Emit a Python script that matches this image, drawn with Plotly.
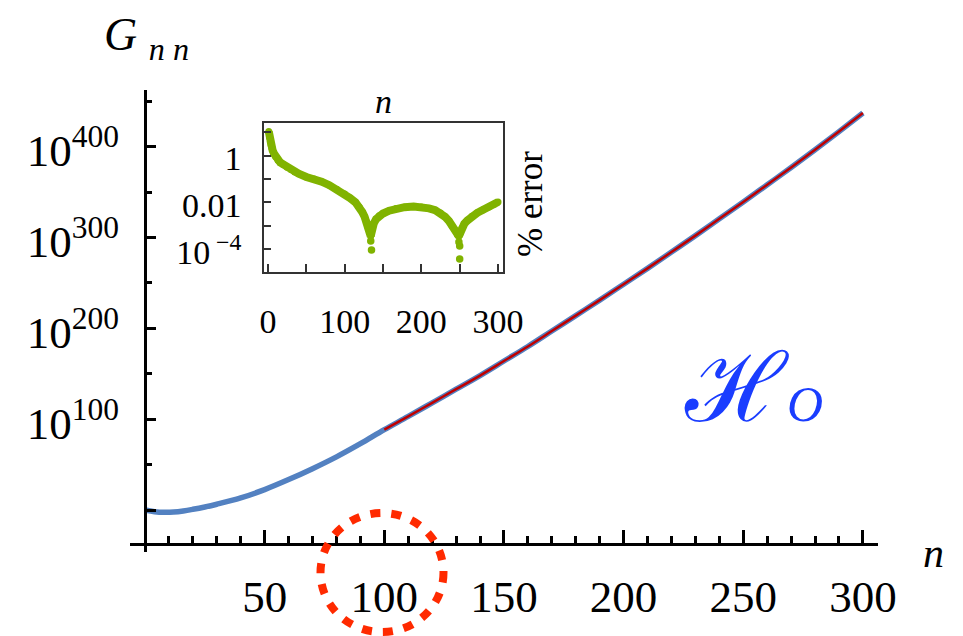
import plotly.graph_objects as go

# ---------------- data ----------------
# main curve: n vs log10(G_nn)
n_main = [0, 4, 8, 12, 16, 20, 25, 30, 40, 50, 60, 70, 80, 90, 100,
          110, 120, 130, 140, 150, 160, 170, 180, 190, 200,
          210, 220, 230, 240, 250, 260, 270, 280, 290, 300]
log_G = [0, -1.8, -2.5, -2.2, -1.0, 0.8, 3.4, 6.4, 13.3, 22.5, 33.5, 45.5, 58.5, 73.0, 88.5,
         103, 118, 133, 148, 164, 180, 197, 214, 231, 248.5,
         266, 284, 302, 320.5, 339, 358, 377, 396.5, 416.5, 437]

# asymptotic approximation (red), from n = 100 on
n_asym = n_main[14:]
log_G_asym = log_G[14:]

# inset: % error (log10 of the value), dense band
n_err = [1, 2, 3, 4, 5, 6, 8, 10, 13, 16, 20, 25, 30, 35, 40, 50, 60, 70, 80, 90, 100,
         107, 114, 119, 123, 126, 129, 131, 133, 134, 135, 136, 138, 141, 145, 150, 158,
         167, 178, 190, 200, 210, 218, 225, 231, 236, 240, 244, 247, 249, 251, 253, 256,
         260, 266, 273, 280, 288, 295, 300]
log_err = [1.03, 0.78, 0.58, 0.44, 0.32, 0.22, 0.07, -0.05, -0.2, -0.3, -0.38, -0.5, -0.6, -0.7,
           -0.78, -0.92, -1.0, -1.12, -1.27, -1.45, -1.65,
           -1.82, -2.0, -2.2, -2.42, -2.62, -2.85, -3.05, -3.3, -3.45, -3.3, -3.1, -2.9, -2.72,
           -2.58, -2.48, -2.36, -2.27, -2.21, -2.18, -2.2, -2.26, -2.34, -2.46, -2.62, -2.8,
           -3.0, -3.2, -3.38, -3.45, -3.3, -3.1, -2.92, -2.78, -2.6, -2.45, -2.33, -2.2,
           -2.08, -1.99]
# isolated points at the bottom of the two dips
n_dip = [134, 135, 249, 250, 250]
log_dip = [-3.65, -4.04, -3.7, -3.87, -4.42]

main_xticks = [0, 50, 100, 150, 200, 250, 300]
main_xtext = ["", "50", "100", "150", "200", "250", "300"]
main_yticks = [0, 100, 200, 300, 400]
main_ytext = ["", "10<sup>100</sup>", "10<sup>200</sup>", "10<sup>300</sup>", "10<sup>400</sup>"]
inset_xticks = [0, 50, 100, 150, 200, 250, 300]
inset_xtext = ["0", "", "100", "", "200", "", "300"]
inset_ytick_exp = [-4, -3, -2, -1, 0, 1]
inset_ytext = ["10<sup> \u22124</sup>", "", "0.01", "", "1", ""]

BLUE = "#5381c1"
RED = "#c00000"
GREEN = "#80b300"
LABEL_BLUE = "#1a3dff"
SERIF = "Liberation Serif"

fig = go.Figure()
fig.add_trace(go.Scatter(x=n_main, y=log_G, mode="lines",
                         line=dict(color=BLUE, width=5.5, shape="spline"),
                         hoverinfo="skip", showlegend=False))
fig.add_trace(go.Scatter(x=n_asym, y=log_G_asym, mode="lines",
                         line=dict(color=RED, width=2.5, shape="spline"),
                         hoverinfo="skip", showlegend=False))
fig.add_trace(go.Scatter(x=n_err, y=[10 ** v for v in log_err], mode="lines+markers",
                         line=dict(color=GREEN, width=8),
                         marker=dict(color=GREEN, size=7),
                         xaxis="x2", yaxis="y2", hoverinfo="skip", showlegend=False))
fig.add_trace(go.Scatter(x=n_dip, y=[10 ** v for v in log_dip], mode="markers",
                         marker=dict(color=GREEN, size=7.5),
                         xaxis="x2", yaxis="y2", hoverinfo="skip", showlegend=False))

# the page body has an 8px margin, so the figure is placed 8px right / down
OFF = 8
W, H = 955, 628
L, R, T, B = 122, 85, 82, 84
pw, ph = W - L - R, H - T - B


def px(x):
    return (x - OFF - L) / pw


def py(y):
    return (H - B - (y - OFF)) / ph


axis_common = dict(showgrid=False, zeroline=False, color="black", automargin=False)

fig.update_layout(
    width=W, height=H,
    margin=dict(l=L, r=R, t=T, b=B, autoexpand=False),
    paper_bgcolor="white", plot_bgcolor="white",
    font=dict(family=SERIF, color="black"),
    xaxis=dict(domain=[0, 1], range=[-6.268, 306.3], anchor="free", position=py(544),
               showline=True, linecolor="black", linewidth=3,
               tickmode="array", tickvals=main_xticks, ticktext=main_xtext,
               ticks="inside", ticklen=13, tickwidth=2.5, tickcolor="black",
               minor=dict(tickmode="linear", tick0=0, dtick=10, ticks="inside",
                          ticklen=7, tickwidth=2.5, tickcolor="black"),
               tickfont=dict(size=45, family=SERIF, color="black"),
               ticklabelstandoff=12, **axis_common),
    yaxis=dict(domain=[0, 1], range=[-46.2, 462.3], anchor="free", position=px(145),
               showline=True, linecolor="black", linewidth=3,
               tickmode="array", tickvals=main_yticks, ticktext=main_ytext,
               ticks="inside", ticklen=9, tickwidth=2.5, tickcolor="black",
               minor=dict(tickmode="linear", tick0=0, dtick=50, ticks="inside",
                          ticklen=5, tickwidth=2.5, tickcolor="black"),
               tickfont=dict(size=45, family=SERIF, color="black"),
               ticklabelstandoff=16, ticklabelshift=4, **axis_common),
    xaxis2=dict(domain=[px(264), px(503)], range=[-5.22, 306.5], anchor="y2",
                showline=True, mirror=True, linecolor="#333333", linewidth=1.5,
                tickmode="array", tickvals=inset_xticks, ticktext=inset_xtext,
                ticks="inside", ticklen=8, tickwidth=1.5, tickcolor="#333333",
                tickfont=dict(size=34, family=SERIF, color="black"),
                ticklabelstandoff=18, **axis_common),
    yaxis2=dict(domain=[py(272), py(123)], type="log", range=[-4.98, 1.39], anchor="x2",
                showline=True, mirror=True, linecolor="#333333", linewidth=1.5,
                tickmode="array", tickvals=[10 ** e for e in inset_ytick_exp],
                ticktext=inset_ytext,
                ticks="inside", ticklen=7, tickwidth=1.5, tickcolor="#333333",
                tickfont=dict(size=34, family=SERIF, color="black"),
                ticklabelstandoff=14, ticklabelshift=3, **axis_common),
)

ann = [
    dict(text="<i>G</i> <sub><i>n n</i></sub>", x=px(102), y=py(38), xanchor="left",
         yanchor="middle", font=dict(size=46, family=SERIF, color="black")),
    dict(text="<i>n</i>", x=px(933), y=py(553), xanchor="center", yanchor="middle",
         font=dict(size=42, family=SERIF, color="black")),
    dict(text="<i>n</i>", x=px(383), y=py(101), xanchor="center", yanchor="middle",
         font=dict(size=34, family=SERIF, color="black")),
    dict(text="% error", x=px(530), y=py(204), xanchor="center", yanchor="middle",
         textangle=-90, font=dict(size=35, family=SERIF, color="black")),
    dict(text="\u210b", x=px(736), y=py(388), xanchor="center",
         yanchor="middle", font=dict(size=96, family="DejaVu Serif", color=LABEL_BLUE)),
    dict(text="<i>O</i>", x=px(805), y=py(404), xanchor="center",
         yanchor="middle", font=dict(size=50, family=SERIF, color=LABEL_BLUE)),
]
for a in ann:
    a.update(xref="paper", yref="paper", showarrow=False)
fig.update_layout(annotations=ann)

fig.add_shape(type="circle", xref="paper", yref="paper",
              x0=px(320.5), x1=px(443.5), y0=py(632), y1=py(513),
              line=dict(color="#ff2a00", width=8, dash="10px,11px"))

fig.write_html("out.html")
